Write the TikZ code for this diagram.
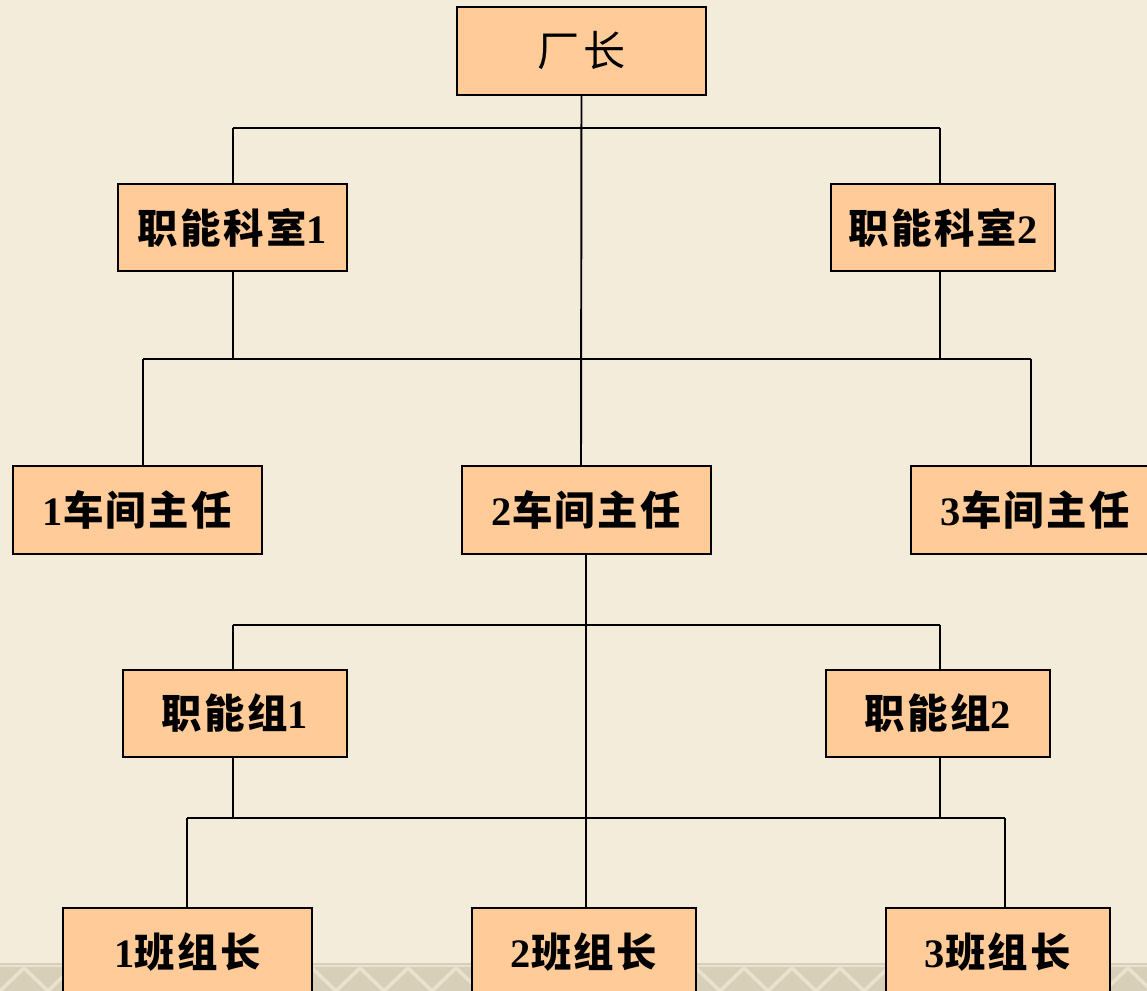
\documentclass[tikz,border=0pt]{standalone}
\usepackage{fontspec}
\setmainfont{Liberation Serif}
\newfontfamily\cjk[LetterSpace=6]{Noto Sans CJK SC}
\definecolor{bgbeige}{HTML}{F4ECDB}
\definecolor{boxfill}{HTML}{FFCC99}
\definecolor{bandcol}{HTML}{D8CFB9}
\definecolor{bandlite}{HTML}{EAE2CF}
\tikzset{
  orgbox/.style={draw=black, line width=1.3pt, fill=boxfill, minimum height=1.75cm,
    inner sep=0pt, font=\fontsize{23}{27}\selectfont\bfseries},
  wide/.style={minimum width=4.98cm},
  narrow/.style={minimum width=4.48cm},
  link/.style={draw=black, line width=1.1pt}
}
\newcommand{\zh}[1]{{\cjk\bfseries #1}}
\begin{document}
\begin{tikzpicture}[x=0.02cm, y=-0.02cm]
\useasboundingbox (0,0) rectangle (1147,991);
\begin{scope}
\clip (0,0) rectangle (1147,991);
\fill[bgbeige] (0,0) rectangle (1147,991);
% decorative bottom band
\fill[bandcol] (0,963) rectangle (1147,991);
\foreach \i in {0,...,24} {
  \draw[bandlite, line width=2pt] (\i*48,991) -- (\i*48+24,968) -- (\i*48+48,991);
}
\draw[bandlite, line width=1.5pt] (0,966) -- (1147,966);

% nodes
\node[orgbox, wide, font=\fontsize{24}{28}\selectfont] (top) at (581.5,51) {{\cjk 厂\hspace{0.1em}长}};
\node[orgbox, minimum width=4.58cm] (k1) at (232.5,227.5) {\zh{职能科室}1};
\node[orgbox, narrow] (k2) at (943,227.5) {\zh{职能科室}2};
\node[orgbox, wide] (w1) at (137.5,510) {1\zh{车间主任}};
\node[orgbox, wide] (w2) at (586.5,510) {2\zh{车间主任}};
\node[orgbox, wide] (w3) at (1035.5,510) {3\zh{车间主任}};
\node[orgbox, narrow] (g1) at (235,713.5) {\zh{职能组}1};
\node[orgbox, narrow] (g2) at (938,713.5) {\zh{职能组}2};
\node[orgbox, wide] (b1) at (187.5,952) {1\zh{班组长}};
\node[orgbox, narrow] (b2) at (584,952) {2\zh{班组长}};
\node[orgbox, narrow] (b3) at (998,952) {3\zh{班组长}};

% bar coordinates
\coordinate (r1L) at (233,128);
\coordinate (r1R) at (940,128);
\coordinate (r2L) at (143,359);
\coordinate (r2R) at (1031,359);
\coordinate (r2a) at (233,359);
\coordinate (r2b) at (940,359);
\coordinate (r3L) at (233,625);
\coordinate (r3R) at (940,625);
\coordinate (r4L) at (187,818);
\coordinate (r4R) at (1005,818);
\coordinate (r4a) at (233,818);
\coordinate (r4b) at (940,818);
\coordinate (mid) at (581,128);
\coordinate (mid2) at (586,625);

% connectors
\path[link] (top.south) -- (mid |- w2.north);
\path[link] (r1L) -- (r1R);
\path[link] (r1L) -- (r1L |- k1.north);
\path[link] (r1R) -- (r1R |- k2.north);
\path[link] (r2a |- k1.south) -- (r2a);
\path[link] (r2b |- k2.south) -- (r2b);
\path[link] (r2L) -- (r2R);
\path[link] (r2L) -- (r2L |- w1.north);
\path[link] (r2R) -- (r2R |- w3.north);
\path[link] (mid2 |- w2.south) -- (mid2 |- b2.north);
\path[link] (r3L) -- (r3R);
\path[link] (r3L) -- (r3L |- g1.north);
\path[link] (r3R) -- (r3R |- g2.north);
\path[link] (r4a |- g1.south) -- (r4a);
\path[link] (r4b |- g2.south) -- (r4b);
\path[link] (r4L) -- (r4R);
\path[link] (r4L) -- (r4L |- b1.north);
\path[link] (r4R) -- (r4R |- b3.north);
\end{scope}
\end{tikzpicture}
\end{document}
